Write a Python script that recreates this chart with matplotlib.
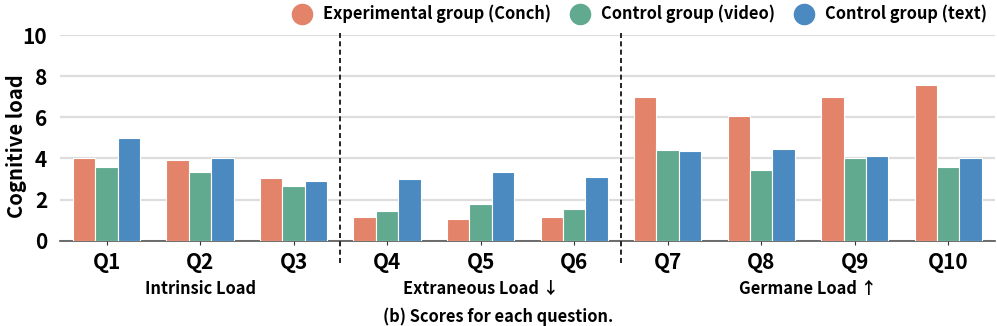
import numpy as np
import matplotlib.pyplot as plt
from matplotlib.lines import Line2D

plt.rcParams['font.family'] = ['Noto Sans CJK SC', 'DejaVu Sans']

questions = ["Q1", "Q2", "Q3", "Q4", "Q5", "Q6", "Q7", "Q8", "Q9", "Q10"]
groups = ["Experimental group (Conch)", "Control group (video)", "Control group (text)"]
conch = [4.0, 3.9, 3.05, 1.14, 1.06, 1.14, 7.0, 6.07, 7.0, 7.57]
video = [3.57, 3.33, 2.67, 1.43, 1.79, 1.53, 4.41, 3.43, 4.0, 3.58]
text = [5.0, 4.0, 2.89, 3.0, 3.33, 3.12, 4.34, 4.46, 4.11, 4.0]
sections = ["Intrinsic Load", "Extraneous Load ↓", "Germane Load ↑"]
colors = ["#E2836A", "#62AA8F", "#4A8AC0"]

fig = plt.figure(figsize=(9.97, 3.26), dpi=100)
ax = fig.add_axes([0.060, 0.262, 0.938, 0.630])

x = np.arange(len(questions))
bw = 0.24
for i, (vals, col) in enumerate(zip([conch, video, text], colors)):
    ax.bar(x + (i - 1) * bw, vals, width=bw, color=col, edgecolor="white",
           linewidth=0.8, zorder=3)

ax.set_xlim(-0.5, len(questions) - 0.5)
ax.set_ylim(0, 10)
ax.set_yticks([0, 2, 4, 6, 8, 10])
ax.yaxis.grid(True, color="#dddddd", linewidth=1.6, zorder=0)
ax.set_axisbelow(True)
for s in ["top", "right", "left"]:
    ax.spines[s].set_visible(False)
ax.spines["bottom"].set_color("#555555")
ax.spines["bottom"].set_linewidth(1.2)
ax.tick_params(axis="y", length=0, labelsize=15, pad=9)
ax.tick_params(axis="x", length=3, color="#333333", labelsize=15, pad=5)
ax.set_xticks(x)
ax.set_xticklabels(questions, fontweight="bold")
for lab in ax.get_yticklabels():
    lab.set_fontweight("bold")
ax.set_ylabel("Cognitive load", fontsize=14.5, fontweight="bold")
ax.yaxis.set_label_coords(-0.035, 0.46)

# dashed separators
for xs in [2.5, 5.5]:
    ax.plot([xs, xs], [-1.1, 10.2], color="black", linestyle=(0, (3, 2)),
            linewidth=1.2, clip_on=False, zorder=4)

# section labels
for k, name in enumerate(sections):
    ax.text(3 * k + 1 + (0.5 if k == 2 else 0), -2.35, name, ha="center", va="center",
            fontsize=11.8, fontweight="bold")

fig.text(0.5, 0.028, "(b) Scores for each question.", ha="center", va="center",
         fontsize=11.8, fontweight="bold")

handles = [Line2D([0], [0], marker="o", linestyle="", markersize=14.5,
                  markerfacecolor=c, markeredgecolor=c) for c in colors]
leg = fig.legend(handles, groups, loc="upper right", bbox_to_anchor=(1.0, 1.015),
                 ncol=3, frameon=False, fontsize=11.8, handletextpad=0.3,
                 columnspacing=0.75, borderaxespad=0.2)
for t in leg.get_texts():
    t.set_fontweight("bold")

fig.savefig("out.png", dpi=100)
